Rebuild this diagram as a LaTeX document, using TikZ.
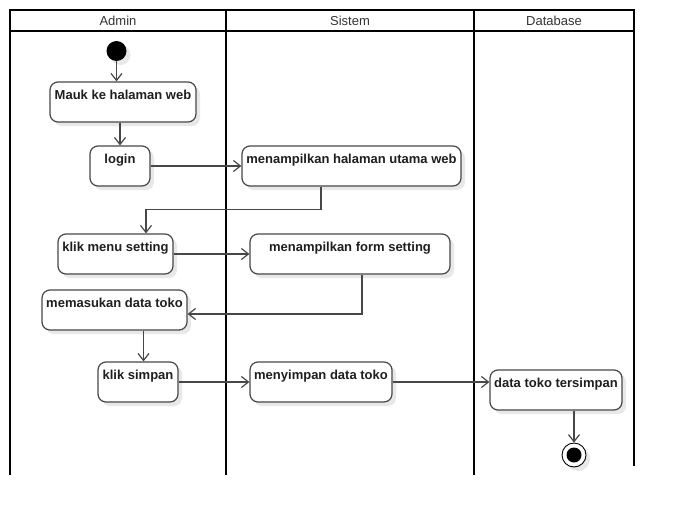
\documentclass[tikz,border=0pt]{standalone}
\usepackage{fontspec}
\setmainfont{Liberation Sans}
\usetikzlibrary{arrows.meta,shadows}
\begin{document}
\begin{tikzpicture}[x=1pt,y=1pt,
  act/.style={draw=black!72, line width=1.2pt, rounded corners=8pt, fill=white,
    font=\bfseries\fontsize{13}{15}\selectfont, text=black!88,
    minimum height=40pt, inner xsep=0pt, inner ysep=0pt,
    text height=17pt, text depth=23pt,
    drop shadow={shadow xshift=4pt,shadow yshift=-4pt,fill=black,opacity=0.09}},
  flow/.style={draw=black!72, line width=1.2pt, -{Straight Barb[length=7pt,width=11pt]}},
  lane/.style={line width=1.8pt, draw=black},
  lanetitle/.style={font=\fontsize{13}{15}\selectfont, text=black!80, inner sep=0pt}
]
\useasboundingbox (0,0) rectangle (674,-514);
% swimlanes
\draw[lane] (10,-10) rectangle (634,-31);
\draw[lane] (10,-10) -- (10,-475);
\draw[lane] (226,-10) -- (226,-475);
\draw[lane] (474,-10) -- (474,-475);
\draw[lane] (634,-10) -- (634,-466);
\node[lanetitle] (hA) at (118,-20.5) {Admin};
\node[lanetitle] (hS) at (350,-20.5) {Sistem};
\node[lanetitle] (hD) at (554,-20.5) {Database};
% start
\node[circle, fill=black, minimum size=20pt, inner sep=0pt,
  drop shadow={shadow xshift=4pt,shadow yshift=-4pt,fill=black,opacity=0.09}] (start) at (116.5,-51) {};
% activities
\node[act, minimum width=146pt] (mauk) at (123,-102) {Mauk ke halaman web};
\node[act, minimum width=60pt] (login) at (120,-166) {login};
\node[act, minimum width=219pt] (utama) at (351.5,-166) {menampilkan halaman utama web};
\node[act, minimum width=115pt] (klikmenu) at (115.5,-254) {klik menu setting};
\node[act, minimum width=200pt] (form) at (350,-254) {menampilkan form setting};
\node[act, minimum width=145pt] (masuk) at (114.5,-310) {memasukan data toko};
\node[act, minimum width=80pt] (simpan) at (138,-382) {klik simpan};
\node[act, minimum width=142pt] (menyimpan) at (321,-382) {menyimpan data toko};
\node[act, minimum width=132pt] (tersimpan) at (556,-390) {data toko tersimpan};
% end
\node[circle, draw=black, line width=0.9pt, fill=white, minimum size=24pt, inner sep=0pt,
  drop shadow={shadow xshift=4pt,shadow yshift=-4pt,fill=black,opacity=0.09}] (end) at (574,-455) {};
\node[circle, fill=black, minimum size=15pt, inner sep=0pt] (endin) at (end.center) {};
% helper coordinates
\coordinate (s1) at ([xshift=5.5pt]simpan.north);
\coordinate (t1) at ([xshift=18pt]tersimpan.south);
% flows
\draw[flow] (start) -- (start |- mauk.north);
\draw[flow] (mauk.south -| login.north) -- (login.north);
\draw[flow] (login.east) -- (utama.west);
\draw[flow] ([xshift=-30.5pt]utama.south) -- ++(0,-23) -| ([xshift=30.5pt]klikmenu.north);
\draw[flow] (klikmenu.east) -- (form.west);
\draw[flow] ([xshift=12pt]form.south) |- ([yshift=-4pt]masuk.east);
\draw[flow] (masuk.south -| s1) -- (s1);
\draw[flow] (simpan.east) -- (menyimpan.west);
\draw[flow] (menyimpan.east) -- (menyimpan.east -| tersimpan.west);
\draw[flow] (t1) -- (end.north);
\end{tikzpicture}
\end{document}
